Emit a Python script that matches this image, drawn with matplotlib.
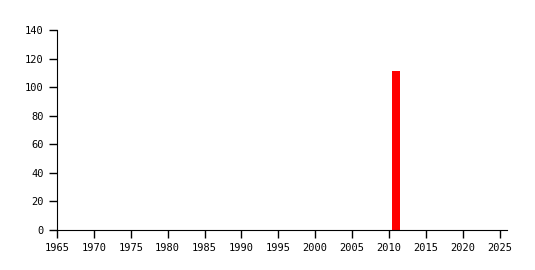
import numpy as np
import matplotlib.pyplot as plt

years = [2011]
counts = [111]
xticks = list(range(1965, 2030, 5))
yticks = list(range(0, 160, 20))

plt.rcParams['font.family'] = 'DejaVu Sans Mono'
plt.rcParams['font.size'] = 7.5

fig = plt.figure(figsize=(5.35, 2.70), dpi=100)
ax = fig.add_axes([57/535, 1 - 230/270, 450/535, 200/270])

ax.bar(years, counts, width=1.1, color='#ff0000', linewidth=0)

ax.set_xlim(1965, 2026)
ax.set_ylim(0, 140)
ax.set_xticks(xticks)
ax.set_yticks(yticks)
ax.spines['top'].set_visible(False)
ax.spines['right'].set_visible(False)
ax.tick_params(direction='out', length=6, width=1, colors='black')

fig.savefig('out.png', dpi=100)
